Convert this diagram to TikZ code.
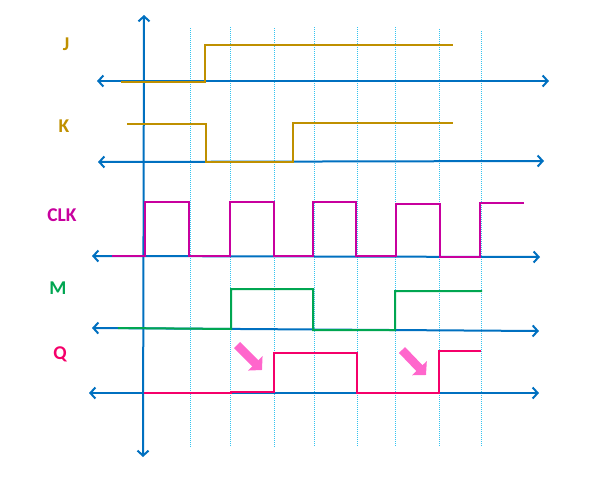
\documentclass[tikz,border=0pt]{standalone}
\usepackage{fontspec}
\setmainfont{Carlito}
\usetikzlibrary{arrows.meta}
\definecolor{axisblue}{HTML}{0070C0}
\definecolor{gridcyan}{HTML}{33C3F0}
\definecolor{jkcol}{HTML}{BF9000}
\definecolor{clkcol}{HTML}{C8009E}
\definecolor{mcol}{HTML}{00A651}
\definecolor{qcol}{HTML}{F5006A}
\definecolor{hintcol}{HTML}{FF66CC}
\begin{document}
\begin{tikzpicture}[x=1pt,y=-1pt,
  axisline/.style={axisblue, line width=2pt,
    {Straight Barb[length=5pt,width=11pt]}-{Straight Barb[length=5pt,width=11pt]}},
  gridline/.style={gridcyan, line width=1pt, densely dotted},
  wave/.style={line width=2pt, line join=miter},
  lbl/.style={font=\bfseries\fontsize{19.5}{21}\selectfont, inner sep=0pt},
  hint/.style={hintcol, line width=8.5pt, -{Triangle[length=9.5pt,width=20pt]}}]
\useasboundingbox (0,0) rectangle (590,477);
% dotted time grid
\foreach \gx/\gy in {190/28,230/27,274/28,314/27,357/27,395/27,439/29,481/31}{
  \draw[gridline] (\gx,\gy) -- (\gx,447);
}
% axes
\coordinate (vT) at (144,15);
\coordinate (vB) at (143,457);
\draw[axisline] (vB) -- (vT);
\coordinate (jL) at (97,81);  \coordinate (jR) at (549,81);
\coordinate (kL) at (98,162); \coordinate (kR) at (544,161);
\coordinate (cL) at (92,256); \coordinate (cR) at (540,257);
\coordinate (mL) at (92,328); \coordinate (mR) at (539,331);
\coordinate (qL) at (89,393); \coordinate (qR) at (539,393);
\draw[axisline] (jL) -- (jR);
\draw[axisline] (kL) -- (kR);
\draw[axisline] (cL) -- (cR);
\draw[axisline] (mL) -- (mR);
\draw[axisline] (qL) -- (qR);
% labels
\node[lbl, text=jkcol] (labJ) at (66,44) {J};
\node[lbl, text=jkcol] (labK) at (64,126) {K};
\node[lbl, text=clkcol] (labC) at (62,215) {CLK};
\node[lbl, text=mcol] (labM) at (58,288) {M};
\node[lbl, text=qcol] (labQ) at (60,354) {Q};
% waveforms
\draw[wave, jkcol] (121,82) -- (205,82) -- (205,45) -- (453,45);
\draw[wave, jkcol] (127,124) -- (206,124) -- (206,162) -- (293,162) -- (293,123) -- (453,123);
\draw[wave, clkcol] (112,256) -- (145,256) -- (145,202) -- (189,202) -- (189,256)
  -- (230,256) -- (230,202) -- (274,202) -- (274,256) -- (313,256) -- (313,202)
  -- (356,202) -- (356,256) -- (396,256) -- (396,204) -- (440,204) -- (440,257)
  -- (480,257) -- (480,203) -- (524,203);
\draw[wave, mcol] (118,328) -- (231,329) -- (231,289) -- (313,289) -- (313,330)
  -- (395,330) -- (395,291) -- (482,291);
\draw[wave, qcol] (144,393) -- (231,393) -- (231,392) -- (274,392) -- (274,353)
  -- (357,353) -- (357,393) -- (439,393) -- (439,351) -- (481,351);
% hint arrows
\coordinate (h1s) at (237,345); \coordinate (h1e) at (262,370);
\coordinate (h2s) at (402,350); \coordinate (h2e) at (426,375);
\draw[hint] (h1s) -- (h1e);
\draw[hint] (h2s) -- (h2e);
\end{tikzpicture}
\end{document}
